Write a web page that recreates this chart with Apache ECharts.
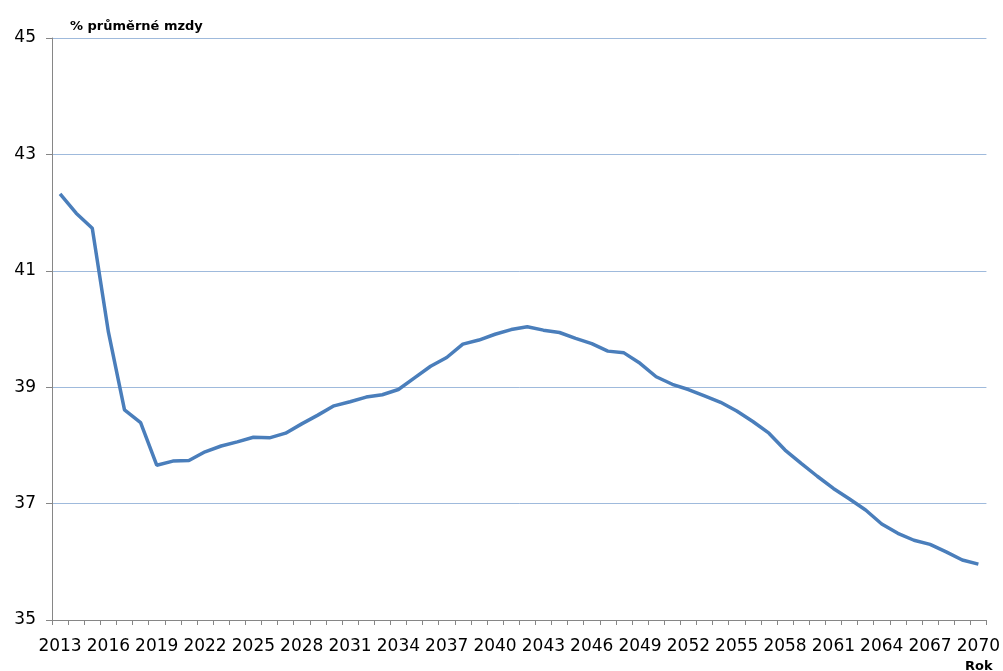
<!DOCTYPE html>
<html lang="cs">
<head>
    <meta charset="UTF-8">
    <title>% průměrné mzdy</title>
    <script src="https://cdn.jsdelivr.net/npm/echarts@6/dist/echarts.min.js"></script>
    <style>
        html, body { margin: 0; height: 100%; background: #fff; }
        #chart { width: 1003px; height: 671px; }
    </style>
</head>
<body>
<div id="chart"></div>
<script>
    // roky 2013-2070
    var years = [];
    for (var y = 2013; y <= 2070; y++) years.push(String(y));

    // hodnoty (% průměrné mzdy)
    var values = [
        42.32, 41.99, 41.73, 39.95, 38.61, 38.39, 37.66, 37.73, 37.74, 37.89,
        37.99, 38.06, 38.14, 38.13, 38.21, 38.37, 38.52, 38.68, 38.75, 38.83,
        38.87, 38.96, 39.16, 39.36, 39.51, 39.74, 39.81, 39.91, 39.99, 40.04,
        39.98, 39.94, 39.84, 39.75, 39.62, 39.59, 39.41, 39.18, 39.05, 38.96,
        38.85, 38.74, 38.59, 38.41, 38.21, 37.92, 37.69, 37.47, 37.26, 37.08,
        36.89, 36.65, 36.49, 36.37, 36.30, 36.17, 36.03, 35.96
    ];

    var yMin = 35, yMax = 45, yStep = 2;

    var chart = echarts.init(document.getElementById('chart'));
    var font = 'DejaVu Sans';

    chart.setOption({
        animation: false,
        title: {
            text: '% průměrné mzdy',
            left: 65,
            top: 15,
            textStyle: { fontFamily: font, fontSize: 13, fontWeight: 'bold', color: '#000' }
        },
        graphic: [{
            type: 'text',
            left: 965,
            top: 660,
            style: { text: 'Rok', font: 'bold 13px "DejaVu Sans"', fill: '#000' }
        }],
        grid: { left: 52, right: 15, top: 38, bottom: 51 },
        xAxis: {
            type: 'category',
            data: years,
            boundaryGap: true,
            axisLine: { lineStyle: { color: '#868686', width: 1 } },
            axisTick: { show: true, interval: 0, length: 5, lineStyle: { color: '#868686' } },
            axisLabel: { interval: 2, margin: 18, color: '#000', fontFamily: font, fontSize: 17 },
            splitLine: { show: false }
        },
        yAxis: {
            type: 'value',
            min: yMin,
            max: yMax,
            interval: yStep,
            axisLine: { show: true, lineStyle: { color: '#868686', width: 1 } },
            axisTick: { show: true, length: 6, lineStyle: { color: '#868686' } },
            axisLabel: { margin: 16, color: '#000', fontFamily: font, fontSize: 17 },
            splitLine: { lineStyle: { color: '#9fbadc', width: 1 } }
        },
        series: [{
            type: 'line',
            data: values,
            symbol: 'none',
            lineStyle: { color: '#4a7ebb', width: 3.5 },
            itemStyle: { color: '#4a7ebb' }
        }]
    });
</script>
</body>
</html>
